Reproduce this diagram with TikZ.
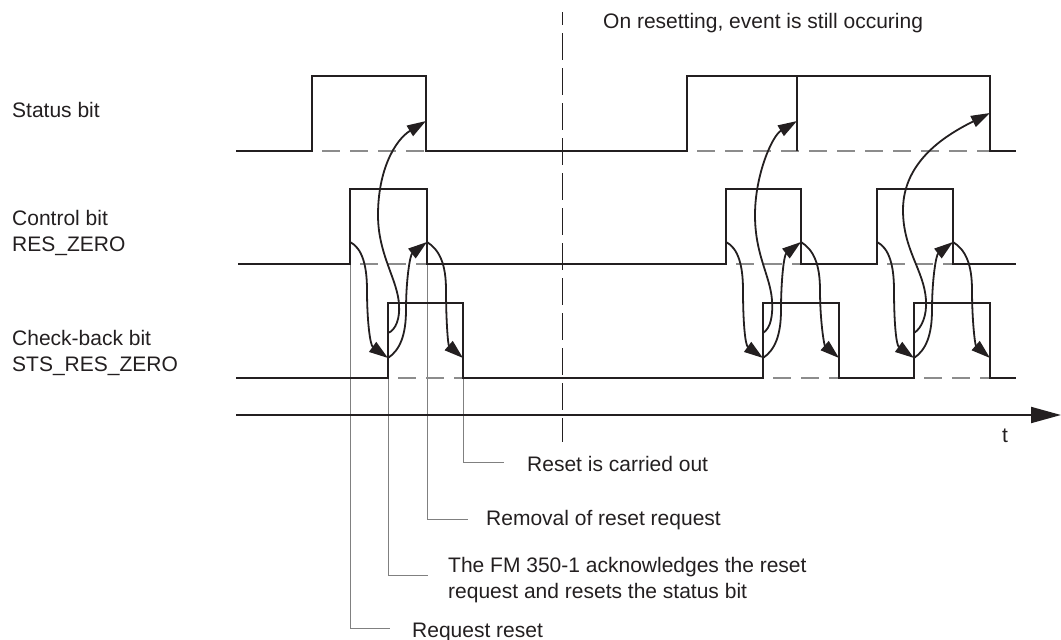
\documentclass[tikz,border=0pt]{standalone}
\usepackage{fontspec}
\setmainfont{Liberation Sans}
\usetikzlibrary{arrows.meta,calc}
\definecolor{ink}{HTML}{231F20}
\definecolor{lead}{HTML}{808080}
\definecolor{dsh}{HTML}{8C8C8C}
\begin{document}
\begin{tikzpicture}[x=1pt,y=-1pt,
  sig/.style={draw=ink,line width=1.9pt,line join=miter},
  lowdash/.style={draw=dsh,line width=1.5pt,dash pattern=on 18pt off 10pt,dash phase=18pt},
  leader/.style={draw=lead,line width=1pt},
  divider/.style={draw=ink,line width=1pt,dash pattern=on 27pt off 8pt,dash phase=14pt},
  arr/.style={draw=ink,line width=1.8pt,-{Triangle[length=19pt,width=12pt]}},
  txt/.style={anchor=base west,inner sep=0pt,text=ink,font=\fontsize{21}{25.5}\selectfont,align=left}]
\useasboundingbox (0,0) rectangle (1061,640);

% ---------- labels (base = baseline of last line) ----------
\node[txt] (lstat) at (12,117) {Status bit};
\node[txt] (lctrl) at (12,251) {Control bit\\RES\_ZERO};
\node[txt] (lchk)  at (12,371) {Check-back bit\\STS\_RES\_ZERO};
\node[txt] (lnote) at (603,28) {On resetting, event is still occuring};
\node[txt] (lt)    at (1002,442) {t};
\node[txt] (tres)  at (527,471) {Reset is carried out};
\node[txt] (trem)  at (486,525) {Removal of reset request};
\node[txt] (tack)  at (448,598) {The FM 350-1 acknowledges the reset\\request and resets the status bit};
\node[txt] (treq)  at (412,637) {Request reset};

% ---------- leader lines ----------
\coordinate (cl1) at (350,264);  \coordinate (lreq) at (390,628);
\coordinate (kl1) at (388,378);  \coordinate (lack) at (428,575);
\coordinate (cfl1) at (427,264); \coordinate (lrem) at (468,519);
\coordinate (kfl1) at (463,378); \coordinate (lres) at (504,462);
\draw[leader] (cl1) |- (lreq);
\draw[leader] (kl1) |- (lack);
\draw[leader] (cfl1) |- (lrem);
\draw[leader] (kfl1) |- (lres);

% ---------- divider ----------
\coordinate (vd0) at (562,12);
\coordinate (vd1) at (562,442);
\draw[divider] (vd0) -- (vd1);

% ---------- dashed low levels ----------
\draw[lowdash] (312,151) -- (426,151);
\draw[lowdash] (687,151) -- (990,151);
\draw[lowdash] (350,264) -- (427,264);
\draw[lowdash] (726,264) -- (801,264);
\draw[lowdash] (877,264) -- (953,264);
\draw[lowdash] (388,378) -- (463,378);
\draw[lowdash] (763,378) -- (839,378);
\draw[lowdash] (914,378) -- (990,378);

% ---------- signals ----------
\draw[sig] (236,151) -- (312,151) -- (312,76) -- (426,76) -- (426,151) -- (687,151)
  -- (687,76) -- (990,76) -- (990,151) -- (1016,151);
\draw[sig] (797,76) -- (797,151);
\draw[sig] (238,264) -- (350,264) -- (350,189) -- (427,189) -- (427,264) -- (726,264)
  -- (726,189) -- (801,189) -- (801,264) -- (877,264) -- (877,189) -- (953,189)
  -- (953,264) -- (1016,264);
\draw[sig] (236,378) -- (388,378) -- (388,303) -- (463,303) -- (463,378) -- (763,378)
  -- (763,303) -- (839,303) -- (839,378) -- (914,378) -- (914,303) -- (990,303)
  -- (990,378) -- (1016,378);

% ---------- time axis ----------
\coordinate (ax0) at (236,415);
\coordinate (ax1) at (1061,415);
\draw[sig,-{Triangle[length=30pt,width=16pt]}] (ax0) -- (ax1);

% ---------- causal arrows ----------
\coordinate (st1) at (426,121);
\coordinate (st2) at (797,121);
\coordinate (st3) at (990,113);
\foreach \i/\r/\k/\f/\g in {1/350/388/427/463, 2/726/763/801/839, 3/877/914/953/990}{
  \coordinate (cr\i) at (\r,242);
  \coordinate (kr\i) at (\k,358);
  \coordinate (kb\i) at (\k,333);
  \coordinate (cf\i) at (\f,242);
  \coordinate (kf\i) at (\g,358);
  \draw[arr] (cr\i) .. controls +(12,6) and +(0,-25) .. ($(cr\i)+(17,48)$)
     .. controls +(0,30) and +(-18,-13) .. (kr\i);
  \draw[arr] (kr\i) .. controls +(12,-8) and +(0,25) .. ($(kr\i)+(18,-48)$)
     .. controls +(0,-30) and +(-17,13) .. (cf\i);
  \draw[arr] (cf\i) .. controls +(13,8) and +(0,-25) .. ($(cf\i)+(19,48)$)
     .. controls +(0,30) and +(-15,-13) .. (kf\i);
}
\draw[arr] (kb1) .. controls (396,330) and (400,318) .. (399,305)
   .. controls (398,280) and (378,255) .. (378,215)
   .. controls (378,170) and (395,140) .. (st1);
\draw[arr] (kb2) .. controls (771,328) and (773,315) .. (772,300)
   .. controls (770,275) and (755,255) .. (755,215)
   .. controls (755,175) and (772,136) .. (st2);
\draw[arr] (kb3) .. controls (922,328) and (927,315) .. (926,300)
   .. controls (924,270) and (903,250) .. (903,210)
   .. controls (903,160) and (948,134) .. (st3);
\end{tikzpicture}
\end{document}
